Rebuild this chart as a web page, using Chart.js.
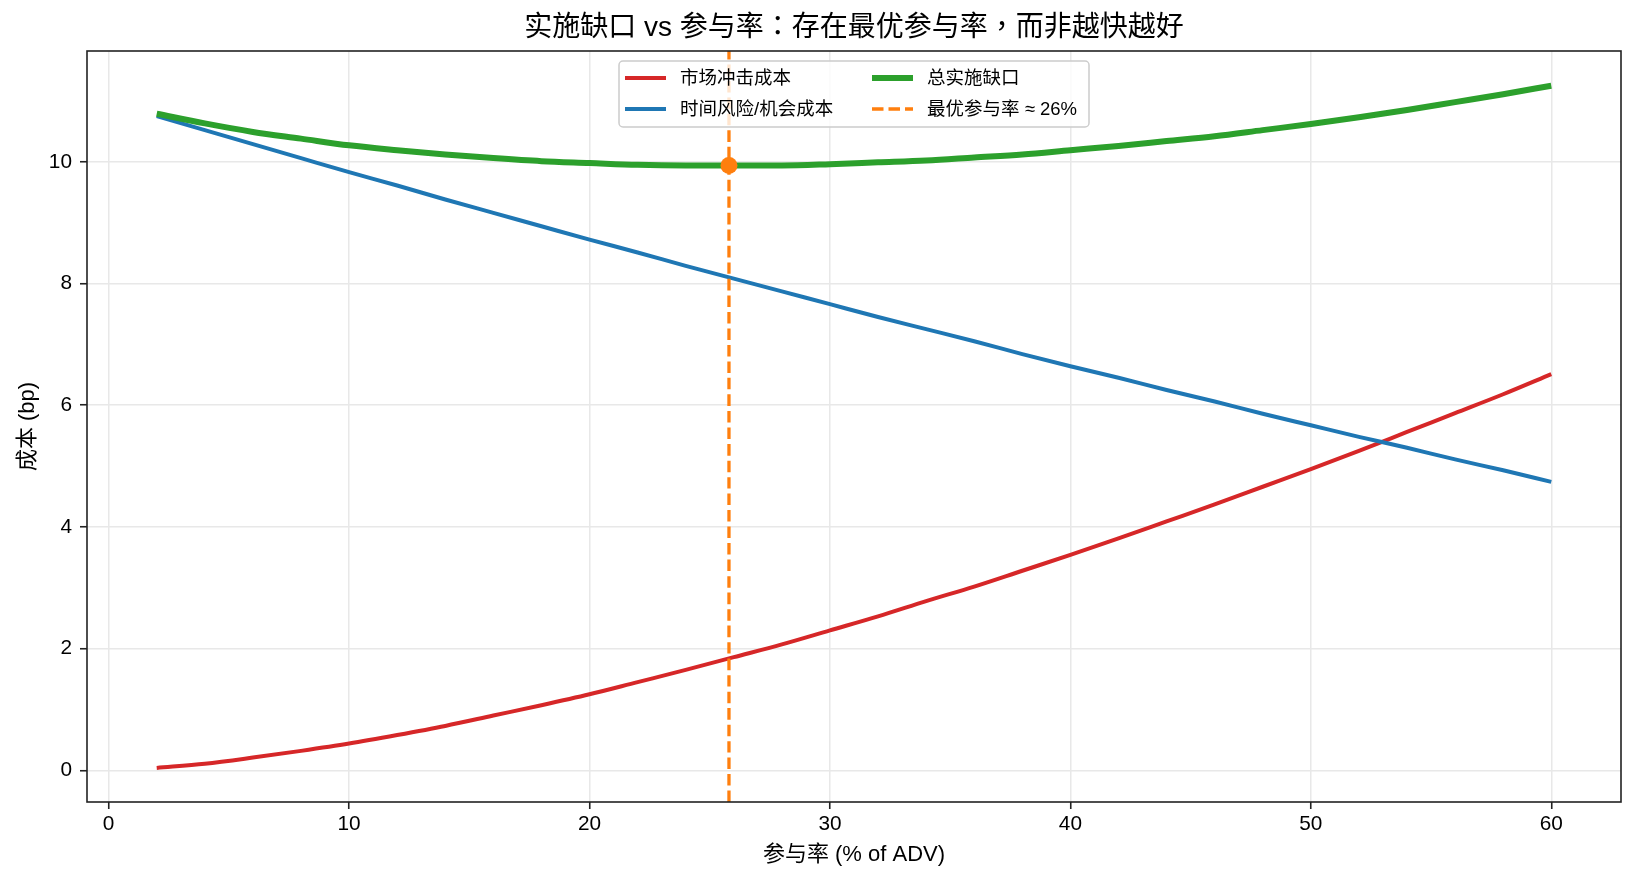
<!DOCTYPE html>
<html>
<head>
<meta charset="utf-8">
<script src="https://cdn.jsdelivr.net/npm/chart.js@4.4.1/dist/chart.umd.min.js"></script>
<style>
  body { margin: 0; background: #fff; }
  canvas { display: block; }
</style>
</head>
<body>
<canvas id="shortfall_canvas" width="1635" height="883"></canvas>
<script>
// participation rate (% of ADV) and costs (bp)
var participation = [2, 4, 6, 8, 10, 12, 14, 16, 18, 20, 22, 24, 26, 28, 30,
                     32, 34, 36, 38, 40, 42, 44, 46, 48, 50, 52, 54, 56, 58, 60];
var impactCost = [0.04, 0.11, 0.21, 0.32, 0.44, 0.58, 0.73, 0.90, 1.07, 1.25,
                  1.45, 1.65, 1.86, 2.07, 2.30, 2.53, 2.78, 3.02, 3.28, 3.54,
                  3.81, 4.09, 4.37, 4.66, 4.95, 5.25, 5.56, 5.87, 6.18, 6.51];
var timingCost = [10.75, 10.52, 10.29, 10.06, 9.83, 9.61, 9.38, 9.16, 8.94, 8.72,
                  8.51, 8.29, 8.08, 7.87, 7.66, 7.45, 7.25, 7.05, 6.84, 6.64,
                  6.45, 6.25, 6.06, 5.86, 5.67, 5.48, 5.30, 5.11, 4.93, 4.74];
var totalShortfall = [10.79, 10.63, 10.49, 10.38, 10.27, 10.19, 10.12, 10.06, 10.01, 9.98,
                      9.95, 9.94, 9.94, 9.94, 9.96, 9.99, 10.02, 10.07, 10.12, 10.19,
                      10.26, 10.34, 10.42, 10.52, 10.62, 10.73, 10.85, 10.98, 11.11, 11.25];
var optimalRate = 25.8;
var optimalCost = 9.94;
var xTicks = [0, 10, 20, 30, 40, 50, 60];
var yTicks = [0, 2, 4, 6, 8, 10];
var xRange = [-0.9, 62.9];
var yRange = [-0.52, 11.82];

var latin = '"Liberation Sans", Arial, "Noto Sans CJK SC", sans-serif';
var titleFont = '"Liberation Sans", Arial, "Noto Sans CJK TC", sans-serif';

function points(xs, ys){
    var out = [];
    for(var i = 0; i < xs.length; i++){
        out.push({x: xs[i], y: ys[i]});
    }
    return out;
}

var frame_plugin = {
    id: 'frame_plugin',
    afterDraw: function(chart){
        var ctx = chart.ctx;
        var a = chart.chartArea;
        ctx.save();
        // box round the plot
        ctx.strokeStyle = '#222';
        ctx.lineWidth = 1.6;
        ctx.strokeRect(a.left, a.top, a.right - a.left, a.bottom - a.top);

        // title and axis titles
        ctx.fillStyle = '#000';
        ctx.textAlign = 'center';
        ctx.textBaseline = 'middle';
        ctx.font = '28px ' + titleFont;
        ctx.fillText('实施缺口 vs 参与率：存在最优参与率，而非越快越好', (a.left + a.right) / 2, 28);
        ctx.font = '22px ' + latin;
        ctx.fillText('参与率 (% of ADV)', (a.left + a.right) / 2, 855);
        ctx.translate(28, (a.top + a.bottom) / 2);
        ctx.rotate(-Math.PI / 2);
        ctx.fillText('成本 (bp)', 0, 0);
        ctx.restore();

        // legend, two columns
        ctx.save();
        var boxL = 619, boxT = 61, boxW = 470, boxH = 66;
        ctx.fillStyle = 'rgba(255,255,255,0.8)';
        ctx.strokeStyle = '#cccccc';
        ctx.lineWidth = 1.5;
        ctx.beginPath();
        ctx.roundRect(boxL, boxT, boxW, boxH, 4);
        ctx.fill();
        ctx.stroke();
        var items = chart.data.datasets.filter(function(d){ return d.showInLegend; });
        var cols = [625, 872];
        var rows = [78, 109];
        ctx.font = '18.5px ' + latin;
        ctx.textAlign = 'left';
        ctx.textBaseline = 'middle';
        for(var i = 0; i < items.length; i++){
            var cx = cols[Math.floor(i / 2)];
            var cy = rows[i % 2];
            ctx.strokeStyle = items[i].borderColor;
            ctx.lineWidth = items[i].borderWidth;
            ctx.setLineDash(items[i].borderDash || []);
            ctx.beginPath();
            ctx.moveTo(cx, cy);
            ctx.lineTo(cx + 41, cy);
            ctx.stroke();
            ctx.setLineDash([]);
            ctx.fillStyle = '#000';
            ctx.fillText(items[i].label, cx + 55, cy + 1);
        }
        ctx.restore();
    }
};

function draw_chart(){
    new Chart(document.getElementById('shortfall_canvas'), {
        type: 'line',
        data: {
            datasets: [{
                label: '市场冲击成本',
                data: points(participation, impactCost),
                borderColor: '#d62728',
                borderWidth: 4,
                showInLegend: true,
                order: 4
            }, {
                label: '时间风险/机会成本',
                data: points(participation, timingCost),
                borderColor: '#1f77b4',
                borderWidth: 4,
                showInLegend: true,
                order: 3
            }, {
                label: '总实施缺口',
                data: points(participation, totalShortfall),
                borderColor: '#2ca02c',
                borderWidth: 6,
                showInLegend: true,
                order: 2
            }, {
                label: '最优参与率 ≈ 26%',
                data: [{x: optimalRate, y: yRange[0]}, {x: optimalRate, y: yRange[1]}],
                borderColor: '#ff7f0e',
                borderWidth: 3.3,
                borderDash: [11.5, 5],
                showInLegend: true,
                order: 1
            }, {
                label: 'optimum',
                data: [{x: optimalRate, y: optimalCost}],
                borderColor: '#ff7f0e',
                backgroundColor: '#ff7f0e',
                showLine: false,
                pointRadius: 8.5,
                pointBorderWidth: 0,
                showInLegend: false,
                order: 0
            }]
        },
        options: {
            responsive: false,
            devicePixelRatio: 1,
            animation: false,
            cubicInterpolationMode: 'monotone',
            elements: {
                point: { radius: 0, hoverRadius: 0 },
                line: { borderCapStyle: 'butt', borderJoinStyle: 'round' }
            },
            layout: { padding: { left: 0, right: 14, top: 51, bottom: 0 } },
            plugins: {
                legend: { display: false },
                title: { display: false },
                tooltip: { enabled: false }
            },
            scales: {
                x: {
                    type: 'linear',
                    min: xRange[0],
                    max: xRange[1],
                    afterBuildTicks: function(scale){
                        scale.ticks = xTicks.map(function(v){ return {value: v}; });
                    },
                    afterFit: function(scale){ scale.height = 81; },
                    border: { display: false },
                    grid: {
                        color: '#e8e8e8',
                        lineWidth: 1.5,
                        tickColor: '#222',
                        tickWidth: 1.6,
                        tickLength: 7
                    },
                    ticks: {
                        color: '#000',
                        padding: 3,
                        maxRotation: 0,
                        font: { family: latin, size: 20.8 }
                    }
                },
                y: {
                    type: 'linear',
                    min: yRange[0],
                    max: yRange[1],
                    afterBuildTicks: function(scale){
                        scale.ticks = yTicks.map(function(v){ return {value: v}; });
                    },
                    afterFit: function(scale){ scale.width = 87; },
                    border: { display: false },
                    grid: {
                        color: '#e8e8e8',
                        lineWidth: 1.5,
                        tickColor: '#222',
                        tickWidth: 1.6,
                        tickLength: 7
                    },
                    ticks: {
                        color: '#000',
                        padding: 8,
                        font: { family: latin, size: 20.8 }
                    }
                }
            }
        },
        plugins: [frame_plugin]
    });
}

draw_chart();
</script>
</body>
</html>
